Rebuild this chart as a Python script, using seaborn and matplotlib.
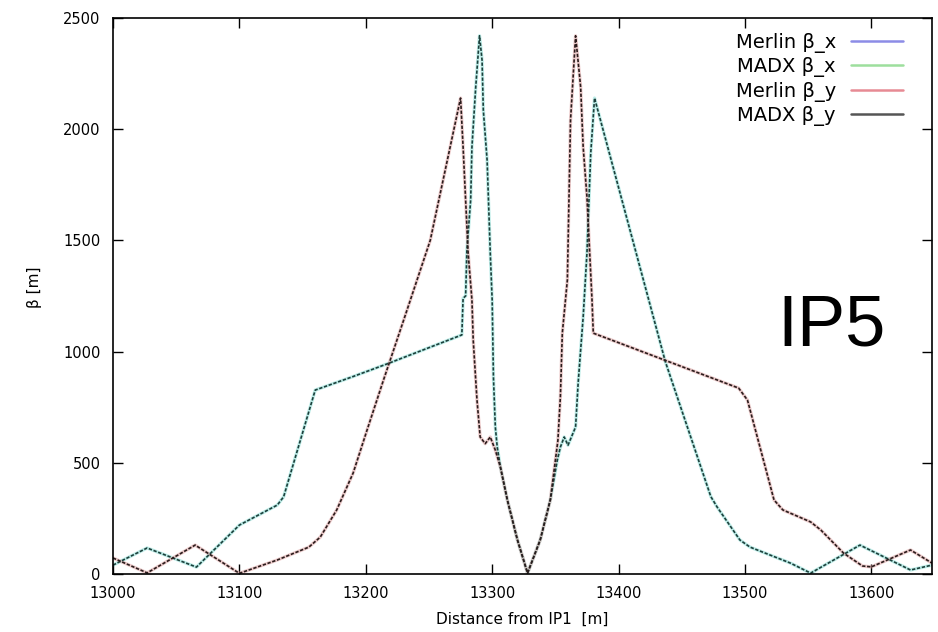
import seaborn as sns
import matplotlib
matplotlib.use("Agg")
import matplotlib.pyplot as plt
from matplotlib.lines import Line2D

# beta_x (Merlin and MADX lie on top of each other)
s_bx = [13000, 13027, 13066, 13100, 13130, 13135, 13160, 13190, 13217, 13276,
        13277, 13279, 13280, 13283, 13284, 13287, 13290, 13292, 13293, 13296,
        13298.5, 13300, 13301, 13302.5, 13304, 13306.5, 13312, 13320, 13328,
        13338, 13346, 13351.5, 13354, 13357, 13360, 13366, 13368, 13370, 13372,
        13375, 13378, 13381, 13437, 13473, 13478, 13496, 13504, 13536, 13552,
        13591, 13631, 13648]
beta_x = [40, 117, 31, 220, 310, 347, 827, 888, 945, 1075,
          1240, 1250, 1457, 1682, 1920, 2190, 2420, 2311, 2086, 1861,
          1443, 1232, 886, 661, 571, 481, 333, 153, 4,
          153, 333, 511, 571, 616, 579, 661, 856, 1007, 1155,
          1443, 1893, 2140, 955, 348, 301, 153, 121, 49, 4,
          130, 18, 40]

# beta_y
s_by = [13000, 13027, 13065, 13100, 13130, 13155, 13164, 13177, 13190, 13201,
        13214, 13230, 13251, 13275, 13277, 13281, 13284, 13285, 13288, 13290.5,
        13294.5, 13298.5, 13302.5, 13306.5, 13312, 13320, 13328, 13338, 13346,
        13352, 13354, 13355.5, 13359.5, 13362, 13366, 13370, 13372, 13375,
        13379, 13380, 13495, 13502, 13523, 13530, 13552, 13560, 13578, 13593,
        13600, 13631, 13648]
beta_y = [72, 5, 130, 3, 63, 121, 166, 288, 454, 647,
          872, 1142, 1500, 2140, 1920, 1443, 1232, 1052, 782, 616,
          586, 616, 557, 481, 333, 153, 4, 153, 333,
          600, 800, 1083, 1322, 2041, 2420, 2190, 1920, 1695,
          1232, 1083, 836, 782, 333, 288, 234, 198, 94, 36,
          32, 108, 49]

labels = ["Merlin β_x", "MADX β_x", "Merlin β_y", "MADX β_y"]
legend_colors = ["#8c8ce6", "#9ddf9d", "#e78a94", "#555555"]

sns.set_theme(style="ticks")
plt.rcParams["font.family"] = ["DejaVu Sans"]
plt.rcParams["text.color"] = "black"
plt.rcParams["axes.labelcolor"] = "black"

fig = plt.figure(figsize=(9.38, 6.32), dpi=100)
ax = fig.add_axes([113 / 938, 58 / 632, 819 / 938, 556 / 632])

# colored halo (Merlin) with dark dashed MADX line on top
sns.lineplot(x=s_bx, y=beta_x, ax=ax, color="#7fdcd3", lw=2.4, alpha=0.5,
             estimator=None, sort=False)
sns.lineplot(x=s_by, y=beta_y, ax=ax, color="#dc9a9a", lw=2.4, alpha=0.5,
             estimator=None, sort=False)
sns.lineplot(x=s_bx, y=beta_x, ax=ax, color="#1c3f3b", lw=1.2,
             estimator=None, sort=False, linestyle=(0, (2, 1)))
sns.lineplot(x=s_by, y=beta_y, ax=ax, color="#2a1c1c", lw=1.2,
             estimator=None, sort=False, linestyle=(0, (2, 1)))

ax.set_xlim(13000, 13648)
ax.set_ylim(0, 2500)
ax.set_xticks(range(13000, 13601, 100))
ax.set_yticks(range(0, 2501, 500))
ax.tick_params(direction="in", length=7, width=1, top=True, right=True,
               labelsize=10.5, pad=9, colors="black")
for sp in ax.spines.values():
    sp.set_visible(True)
    sp.set_color("black")
    sp.set_linewidth(1.2)

ax.set_xlabel("Distance from IP1  [m]", fontsize=11)
ax.set_ylabel("β [m]", fontsize=11)
ax.xaxis.set_label_coords(0.5, -0.068)
ax.yaxis.set_label_coords(-0.0867, 0.515)

handles = [Line2D([], [], color=c, lw=1.8) for c in legend_colors]
leg = ax.legend(handles, labels, loc="upper right", bbox_to_anchor=(0.9646, 0.973),
                frameon=False, markerfirst=False, fontsize=14, handlelength=2.7,
                handletextpad=0.75, labelspacing=0.22, borderpad=0, borderaxespad=0)
for t in leg.get_texts():
    t.set_color("black")

fig.text(777 / 938, 1 - 345 / 632, "IP5", fontsize=52, color="black",
         family=["Liberation Sans"], va="baseline", ha="left")

fig.savefig("out.png", dpi=100)
